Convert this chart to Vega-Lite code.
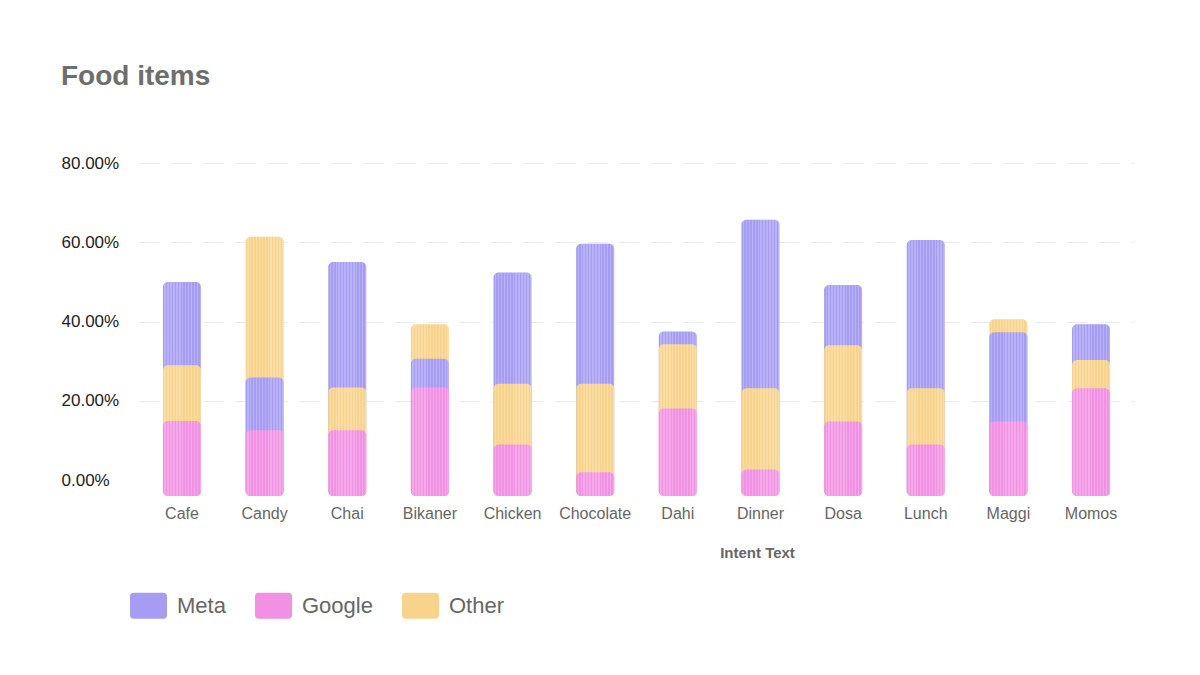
{
  "$schema": "https://vega.github.io/schema/vega-lite/v6.json",
  "width": 995,
  "height": 333,
  "autosize": {"type": "none"},
  "padding": {"left": 139, "top": 163, "right": 66, "bottom": 179},
  "background": "#ffffff",
  "title": {
    "text": "Food items",
    "anchor": "start",
    "frame": "group",
    "dx": -78,
    "offset": 63,
    "fontSize": 28,
    "fontWeight": "bold",
    "color": "#6e6e6e",
    "font": "Liberation Sans"
  },
  "config": {
    "view": {"stroke": null},
    "font": "Liberation Sans"
  },
  "data": {
    "values": [
      {"food": "Cafe", "series": "Meta", "value": 50.0},
      {"food": "Cafe", "series": "Google", "value": 14.9},
      {"food": "Cafe", "series": "Other", "value": 29.0},
      {"food": "Candy", "series": "Meta", "value": 25.9},
      {"food": "Candy", "series": "Google", "value": 12.6},
      {"food": "Candy", "series": "Other", "value": 61.4},
      {"food": "Chai", "series": "Meta", "value": 55.0},
      {"food": "Chai", "series": "Google", "value": 12.6},
      {"food": "Chai", "series": "Other", "value": 23.4},
      {"food": "Bikaner", "series": "Meta", "value": 30.6},
      {"food": "Bikaner", "series": "Google", "value": 23.4},
      {"food": "Bikaner", "series": "Other", "value": 39.3},
      {"food": "Chicken", "series": "Meta", "value": 52.4},
      {"food": "Chicken", "series": "Google", "value": 9.0},
      {"food": "Chicken", "series": "Other", "value": 24.3},
      {"food": "Chocolate", "series": "Meta", "value": 59.6},
      {"food": "Chocolate", "series": "Google", "value": 2.0},
      {"food": "Chocolate", "series": "Other", "value": 24.3},
      {"food": "Dahi", "series": "Meta", "value": 37.5},
      {"food": "Dahi", "series": "Google", "value": 18.1},
      {"food": "Dahi", "series": "Other", "value": 34.3},
      {"food": "Dinner", "series": "Meta", "value": 65.7},
      {"food": "Dinner", "series": "Google", "value": 2.7},
      {"food": "Dinner", "series": "Other", "value": 23.2},
      {"food": "Dosa", "series": "Meta", "value": 49.2},
      {"food": "Dosa", "series": "Google", "value": 14.8},
      {"food": "Dosa", "series": "Other", "value": 34.0},
      {"food": "Lunch", "series": "Meta", "value": 60.6},
      {"food": "Lunch", "series": "Google", "value": 9.0},
      {"food": "Lunch", "series": "Other", "value": 23.2},
      {"food": "Maggi", "series": "Meta", "value": 37.3},
      {"food": "Maggi", "series": "Google", "value": 14.8},
      {"food": "Maggi", "series": "Other", "value": 40.6},
      {"food": "Momos", "series": "Meta", "value": 39.3},
      {"food": "Momos", "series": "Google", "value": 23.2},
      {"food": "Momos", "series": "Other", "value": 30.3}
    ]
  },
  "encoding": {
    "x": {
      "field": "food",
      "type": "nominal",
      "sort": null,
      "scale": {"paddingInner": 0.54, "paddingOuter": 0.29},
      "axis": {
        "title": "Intent Text",
        "titleFontSize": 15,
        "titleFontWeight": "bold",
        "titleColor": "#666666",
        "titleX": 618,
        "titleY": 56,
        "titleAlign": "center",
        "titleBaseline": "middle",
        "labelAngle": 0,
        "labelFontSize": 16,
        "labelColor": "#666666",
        "labelPadding": 9,
        "ticks": false,
        "tickSize": 0,
        "domain": false,
        "grid": false
      }
    }
  },
  "layer": [
    {
      "mark": {"type": "bar", "cornerRadius": 5},
      "encoding": {
        "y": {
          "field": "value",
          "type": "quantitative",
          "stack": null,
          "scale": {"domain": [-4, 80], "nice": false, "zero": false},
          "axis": {
            "title": null,
            "values": [0, 20, 40, 60, 80],
            "labelExpr": "format(datum.value, '.2f') + '%'",
            "labelAlign": "left",
            "labelPadding": 78,
            "labelFontSize": 17,
            "labelColor": "#222222",
            "labelBaseline": "middle",
            "ticks": false,
            "tickSize": 0,
            "domain": false,
            "grid": true,
            "gridColor": "#ebebeb",
            "gridDash": [20, 12],
            "gridWidth": 1,
            "gridOpacity": {"condition": {"test": "datum.value === 0", "value": 0}, "value": 1}
          }
        },
        "y2": {"datum": -4},
        "color": {
          "field": "series",
          "type": "nominal",
          "scale": {"domain": ["Meta", "Google", "Other"], "range": ["#a69cf3", "#f291e4", "#f7d38b"]},
          "legend": {
            "title": null,
            "orient": "none",
            "direction": "horizontal",
            "legendX": -9,
            "legendY": 424,
            "labelFontSize": 22,
            "labelColor": "#666666",
            "labelOffset": 10,
            "columnPadding": 29,
            "symbolType": "M-0.8,-0.7L0.8,-0.7Q1,-0.7,1,-0.5L1,0.5Q1,0.7,0.8,0.7L-0.8,0.7Q-1,0.7,-1,0.5L-1,-0.5Q-1,-0.7,-0.8,-0.7Z",
            "symbolSize": 1369,
            "symbolStrokeWidth": 0,
            "symbolOpacity": 1
          }
        },
        "order": {"field": "value", "sort": "descending"}
      }
    },
    {
      "transform": [
        {"aggregate": [{"op": "max", "field": "value", "as": "top"}], "groupby": ["food"]}
      ],
      "mark": {
        "type": "bar",
        "cornerRadius": 5,
        "fill": {
          "gradient": "linear",
          "x1": 0, "y1": 0, "x2": 1, "y2": 0,
          "stops": [
            {"offset": 0, "color": "rgba(255,255,255,0)"},
            {"offset": 0.0385, "color": "rgba(255,255,255,0)"},
            {"offset": 0.0385, "color": "rgba(255,255,255,0.22)"},
            {"offset": 0.0769, "color": "rgba(255,255,255,0.22)"},
            {"offset": 0.0769, "color": "rgba(255,255,255,0)"},
            {"offset": 0.1154, "color": "rgba(255,255,255,0)"},
            {"offset": 0.1154, "color": "rgba(255,255,255,0.22)"},
            {"offset": 0.1538, "color": "rgba(255,255,255,0.22)"},
            {"offset": 0.1538, "color": "rgba(255,255,255,0)"},
            {"offset": 0.1923, "color": "rgba(255,255,255,0)"},
            {"offset": 0.1923, "color": "rgba(255,255,255,0.22)"},
            {"offset": 0.2308, "color": "rgba(255,255,255,0.22)"},
            {"offset": 0.2308, "color": "rgba(255,255,255,0)"},
            {"offset": 0.2692, "color": "rgba(255,255,255,0)"},
            {"offset": 0.2692, "color": "rgba(255,255,255,0.22)"},
            {"offset": 0.3077, "color": "rgba(255,255,255,0.22)"},
            {"offset": 0.3077, "color": "rgba(255,255,255,0)"},
            {"offset": 0.3462, "color": "rgba(255,255,255,0)"},
            {"offset": 0.3462, "color": "rgba(255,255,255,0.22)"},
            {"offset": 0.3846, "color": "rgba(255,255,255,0.22)"},
            {"offset": 0.3846, "color": "rgba(255,255,255,0)"},
            {"offset": 0.4231, "color": "rgba(255,255,255,0)"},
            {"offset": 0.4231, "color": "rgba(255,255,255,0.22)"},
            {"offset": 0.4615, "color": "rgba(255,255,255,0.22)"},
            {"offset": 0.4615, "color": "rgba(255,255,255,0)"},
            {"offset": 0.5, "color": "rgba(255,255,255,0)"},
            {"offset": 0.5, "color": "rgba(255,255,255,0.22)"},
            {"offset": 0.5385, "color": "rgba(255,255,255,0.22)"},
            {"offset": 0.5385, "color": "rgba(255,255,255,0)"},
            {"offset": 0.5769, "color": "rgba(255,255,255,0)"},
            {"offset": 0.5769, "color": "rgba(255,255,255,0.22)"},
            {"offset": 0.6154, "color": "rgba(255,255,255,0.22)"},
            {"offset": 0.6154, "color": "rgba(255,255,255,0)"},
            {"offset": 0.6538, "color": "rgba(255,255,255,0)"},
            {"offset": 0.6538, "color": "rgba(255,255,255,0.22)"},
            {"offset": 0.6923, "color": "rgba(255,255,255,0.22)"},
            {"offset": 0.6923, "color": "rgba(255,255,255,0)"},
            {"offset": 0.7308, "color": "rgba(255,255,255,0)"},
            {"offset": 0.7308, "color": "rgba(255,255,255,0.22)"},
            {"offset": 0.7692, "color": "rgba(255,255,255,0.22)"},
            {"offset": 0.7692, "color": "rgba(255,255,255,0)"},
            {"offset": 0.8077, "color": "rgba(255,255,255,0)"},
            {"offset": 0.8077, "color": "rgba(255,255,255,0.22)"},
            {"offset": 0.8462, "color": "rgba(255,255,255,0.22)"},
            {"offset": 0.8462, "color": "rgba(255,255,255,0)"},
            {"offset": 0.8846, "color": "rgba(255,255,255,0)"},
            {"offset": 0.8846, "color": "rgba(255,255,255,0.22)"},
            {"offset": 0.9231, "color": "rgba(255,255,255,0.22)"},
            {"offset": 0.9231, "color": "rgba(255,255,255,0)"},
            {"offset": 0.9615, "color": "rgba(255,255,255,0)"},
            {"offset": 0.9615, "color": "rgba(255,255,255,0.22)"},
            {"offset": 1, "color": "rgba(255,255,255,0.22)"}
          ]
        }
      },
      "encoding": {
        "y": {"field": "top", "type": "quantitative"},
        "y2": {"datum": -4}
      }
    }
  ]
}
